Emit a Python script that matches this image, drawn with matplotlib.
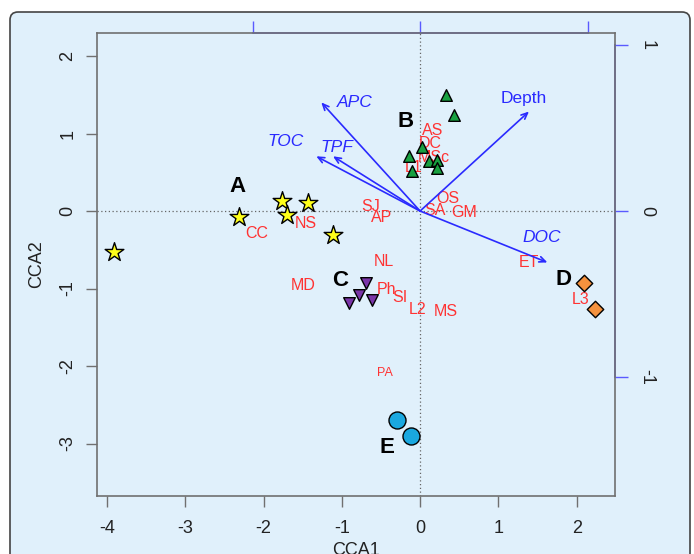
import matplotlib
matplotlib.use("Agg")
import matplotlib.pyplot as plt
from matplotlib.patches import FancyBboxPatch
import numpy as np

plt.rcParams['font.family'] = ['Liberation Sans', 'DejaVu Sans']
plt.rcParams['axes.unicode_minus'] = False

# ---- site scores (groups) ----
A_x = [-3.91, -2.31, -1.77, -1.70, -1.43, -1.11]
A_y = [-0.53, -0.08, 0.13, -0.05, 0.10, -0.31]
B_x = [0.33, 0.43, -0.14, 0.02, -0.10, 0.12, 0.22, 0.21]
B_y = [1.50, 1.24, 0.71, 0.82, 0.52, 0.65, 0.66, 0.55]
C_x = [-0.69, -0.78, -0.91, -0.61]
C_y = [-0.93, -1.08, -1.19, -1.15]
D_x = [2.09, 2.23]
D_y = [-0.93, -1.26]
E_x = [-0.29, -0.115]
E_y = [-2.69, -2.90]

group_names = ['A', 'B', 'C', 'D', 'E']
group_lx = [-2.33, -0.19, -1.02, 1.83, -0.43]
group_ly = [0.31, 1.16, -0.90, -0.88, -3.05]

# ---- species scores ----
sp_names = ['AS', 'DC', 'MSc', 'L1', 'OS', 'SA', 'GM', 'SJ', 'AP', 'NS', 'NL',
            'ET', 'CC', 'MD', 'Ph', 'SI', 'L2', 'MS', 'L3', 'PA']
sp_x = [0.16, 0.13, 0.17, -0.085, 0.35, 0.19, 0.56, -0.63, -0.49, -1.46, -0.46,
        1.39, -2.09, -1.49, -0.43, -0.26, -0.035, 0.33, 2.05, -0.45]
sp_y = [1.04, 0.87, 0.69, 0.56, 0.16, 0.01, -0.02, 0.06, -0.09, -0.16, -0.65,
        -0.67, -0.29, -0.96, -1.01, -1.12, -1.27, -1.29, -1.14, -2.09]

# ---- environmental biplot arrows (biplot axis units) ----
env_names = ['APC', 'TOC', 'TPF', 'Depth', 'DOC']
env_x = [-0.59, -0.62, -0.52, 0.65, 0.76]
env_y = [0.655, 0.33, 0.33, 0.60, -0.31]
env_lx = [-0.83, -1.725, -1.065, 1.33, 1.555]
env_ly = [1.40, 0.90, 0.82, 1.45, -0.345]
env_italic = [True, True, True, False, True]

mul = 2.14  # biplot arrow multiplier

fig = plt.figure(figsize=(6.94, 5.54), dpi=100)
fig.patch.set_facecolor('white')

W, H = 694, 554
bg = fig.add_axes([0, 0, 1, 1], zorder=-5)
bg.set_xlim(0, W)
bg.set_ylim(H, 0)
bg.axis('off')
panel = FancyBboxPatch((10, 12), 680, 560,
                       boxstyle='round,pad=0,rounding_size=8',
                       facecolor='#e0f0fb', edgecolor='#444444', linewidth=1.2)
bg.add_patch(panel)

ax = fig.add_axes([97 / W, 1 - 496 / H, (615 - 97) / W, (496 - 33) / H])
ax.set_facecolor('none')
ax.set_xlim(-4.128, 2.49)
ax.set_ylim(-3.677, 2.297)

gray = '#707070'
for s in ax.spines.values():
    s.set_color(gray)
    s.set_linewidth(1.2)

ax.set_xticks(range(-4, 3))
ax.set_yticks(range(-3, 3))
ax.tick_params(axis='both', colors='#222222', labelsize=13, length=8,
               width=1.0, direction='out')
ax.tick_params(axis='both', color=gray)
ax.tick_params(axis='x', pad=9)
ax.tick_params(axis='y', pad=7, labelrotation=90)
for lab in ax.get_yticklabels():
    lab.set_va('center')
ax.set_xlabel('CCA1', fontsize=13, labelpad=4, color='#222222')
ax.set_ylabel('CCA2', fontsize=13, labelpad=10, color='#222222')

ax.axhline(0, color='#666666', linestyle=(0, (1, 2)), linewidth=0.9, zorder=1)
ax.axvline(0, color='#666666', linestyle=(0, (1, 2)), linewidth=0.9, zorder=1)

# secondary axes for biplot scores
blue_ax = '#5a5aff'
sec_x = ax.secondary_xaxis('top', functions=(lambda v: v / mul, lambda v: v * mul))
sec_y = ax.secondary_yaxis('right', functions=(lambda v: v / mul, lambda v: v * mul))
for sec, side in [(sec_x, 'top'), (sec_y, 'right')]:
    for nm, sp in sec.spines.items():
        sp.set_color(blue_ax)
        sp.set_linewidth(1.2)
    sec.spines[side].set_bounds(-1, 1)
sec_x.set_xticks([-1, 0, 1])
sec_x.tick_params(axis='x', colors=blue_ax, length=9, width=1.0, labeltop=False)
sec_y.set_yticks([-1, 0, 1])
sec_y.tick_params(axis='y', colors=blue_ax, length=9, width=1.0, labelsize=13,
                  labelcolor='#222222', pad=8, labelrotation=-90)
for lab in sec_y.get_yticklabels():
    lab.set_va('center')

# species labels
red = '#ff3333'
for n, x, y in zip(sp_names, sp_x, sp_y):
    ax.text(x, y, n, color=red, fontsize=9 if n == 'PA' else 11.5,
            ha='center', va='center', zorder=2)

# arrows
arrow_c = '#2a2aff'
for n, x, y, lx, ly, it in zip(env_names, env_x, env_y, env_lx, env_ly, env_italic):
    ax.annotate('', xy=(x * mul, y * mul), xytext=(0, 0),
                arrowprops=dict(arrowstyle='->,head_length=0.45,head_width=0.2',
                                color=arrow_c, lw=1.2, shrinkA=0, shrinkB=0),
                zorder=2)
    ax.text(lx, ly, n, color=arrow_c, fontsize=12.5,
            style='italic' if it else 'normal', ha='center', va='center', zorder=2)

# sites
ax.scatter(A_x, A_y, marker='*', s=200, c='#ffff1a', edgecolors='black',
           linewidths=1.0, zorder=3)
ax.scatter(B_x, B_y, marker='^', s=70, c='#18a040', edgecolors='black',
           linewidths=1.0, zorder=3)
ax.scatter(C_x, C_y, marker='v', s=70, c='#7a35a8', edgecolors='black',
           linewidths=1.0, zorder=3)
ax.scatter(D_x, D_y, marker='D', s=70, c='#f5923e', edgecolors='black',
           linewidths=1.0, zorder=3)
ax.scatter(E_x, E_y, marker='o', s=150, c='#1aa8e0', edgecolors='black',
           linewidths=1.0, zorder=3)

for n, x, y in zip(group_names, group_lx, group_ly):
    ax.text(x, y, n, fontsize=16, fontweight='bold', color='black',
            ha='center', va='center', zorder=4)

fig.savefig('out.png', dpi=100)
